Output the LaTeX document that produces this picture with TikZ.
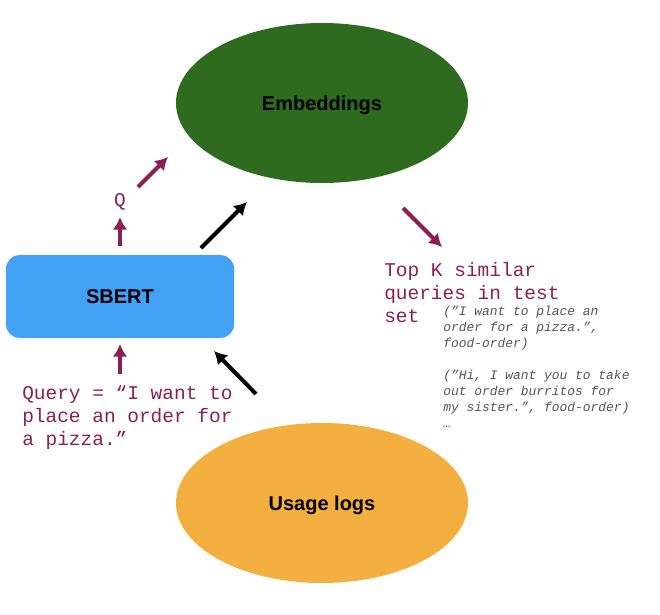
\documentclass[tikz,border=0pt]{standalone}
\usepackage{fontspec}
\setmainfont{Liberation Sans}
\newfontfamily\courierfont{Liberation Mono}
\usetikzlibrary{arrows.meta,positioning,shapes.geometric}
\definecolor{EmbGreen}{HTML}{2F6B1E}
\definecolor{BertBlue}{HTML}{42A1F5}
\definecolor{LogOrange}{HTML}{F3AF3F}
\definecolor{QueryRed}{HTML}{8C1F52}
\definecolor{NoteGray}{HTML}{555555}

\begin{document}
\begin{tikzpicture}[
  x=0.75pt,y=-0.75pt,>=Latex,
  blob/.style={ellipse,draw=none,minimum width=219pt,minimum height=120pt,
    inner sep=0pt,text depth=0pt,font=\bfseries\fontsize{15}{17}\selectfont},
  model/.style={rectangle,rounded corners=10pt,draw=none,fill=BertBlue,
    minimum width=171pt,minimum height=62pt,
    font=\bfseries\fontsize{15}{17}\selectfont},
  qflow/.style={-{Latex[length=9.5pt,width=11pt]},draw=QueryRed,line width=3pt},
  dflow/.style={-{Latex[length=9.5pt,width=11pt]},draw=black,line width=3pt},
  querytext/.style={align=left,inner sep=0pt,text=QueryRed,
    font=\courierfont\fontsize{14.6}{17.3}\selectfont},
  notetext/.style={align=left,inner sep=0pt,text=NoteGray,
    font=\courierfont\itshape\fontsize{9.7}{12}\selectfont}
]
\useasboundingbox (0,0) rectangle (660,614);

% Stores and encoder.
\node[blob,fill=EmbGreen] (emb) at (322,103) {Embeddings};
\node[blob,fill=LogOrange] (logs) at (322,503) {Usage logs};
\node[model] (sbert) at (120,296.5) {SBERT};

% Query path: encode and look up.
\coordinate (qin-tail) at (120,374);
\coordinate (qin-head) at (120,344);
\coordinate (qout-tail) at (120,246);
\coordinate (qout-head) at (120,217);
\node[querytext] (q) at (120,202) {Q};
\coordinate (qemb-tail) at (138,187);
\coordinate (qemb-head) at (168,157);
\draw[qflow] (qin-tail) -- (qin-head);
\draw[qflow] (qout-tail) -- (qout-head);
\draw[qflow] (qemb-tail) -- (qemb-head);

% Logs are encoded into the embedding store.
\coordinate (log-tail) at (256,394);
\coordinate (log-head) at (214,351);
\coordinate (enc-tail) at (201,248);
\coordinate (enc-head) at (247,202);
\draw[dflow] (log-tail) -- (log-head);
\draw[dflow] (enc-tail) -- (enc-head);

% Nearest neighbours come back out.
\coordinate (topk-tail) at (403,208);
\coordinate (topk-head) at (442,247);
\draw[qflow] (topk-tail) -- (topk-head);

\node[querytext,anchor=north west] (query) at (22,385)
  {Query = “I want to\\place an order for\\a pizza.”};
\node[querytext,anchor=north west] (topk) at (384,262)
  {Top K similar\\queries in test\\set};
\node[notetext,anchor=north west] (hits) at (443,306)
  {(”I want to place an\\order for a pizza.”,\\food-order)\\[12pt]
   (”Hi, I want you to take\\out order burritos for\\my sister.”, food-order)\\…};
\end{tikzpicture}
\end{document}
